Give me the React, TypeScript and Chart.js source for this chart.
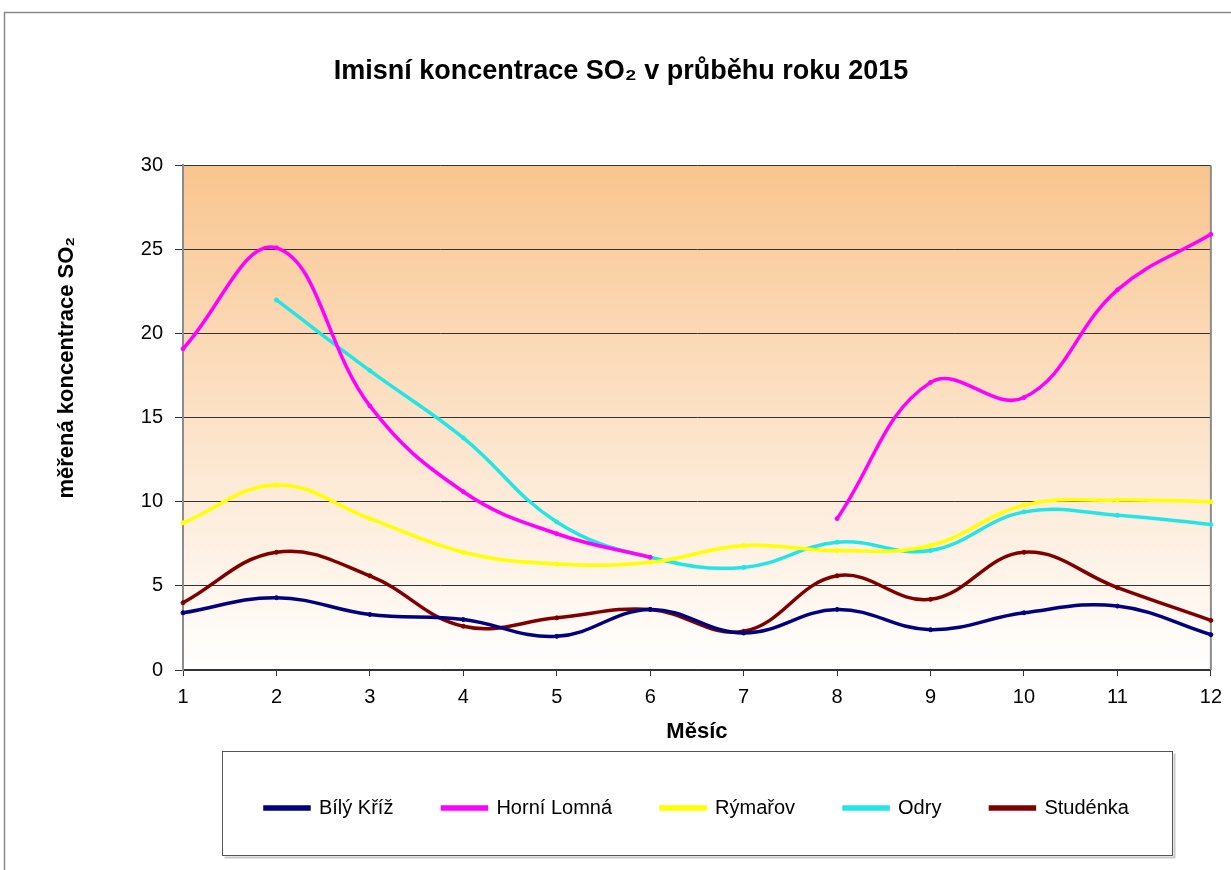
import React, { useEffect, useRef } from 'react';
import { Chart, registerables } from 'chart.js';

Chart.register(...registerables);

const FONT = '"Liberation Sans", Arial, Helvetica, sans-serif';

// ---- data ----
const months = ['1', '2', '3', '4', '5', '6', '7', '8', '9', '10', '11', '12'];
const bilyKriz = [3.4, 4.3, 3.3, 3.0, 2.0, 3.6, 2.2, 3.6, 2.4, 3.4, 3.8, 2.1];
const horniLomna = [19.1, 25.1, 15.7, 10.6, 8.1, 6.7, null, 9.0, 17.1, 16.2, 22.6, 25.9];
const rymarov = [8.75, 11.0, 9.0, 7.0, 6.3, 6.4, 7.4, 7.1, 7.4, 9.8, 10.1, 10.0];
const odry = [null, 22.0, 17.8, 13.8, 8.8, 6.7, 6.1, 7.6, 7.1, 9.4, 9.2, 8.65];
const studenka = [4.0, 7.0, 5.6, 2.6, 3.1, 3.6, 2.3, 5.6, 4.2, 7.0, 4.9, 2.95];

const seriesNames = ['Bílý Kříž', 'Horní Lomná', 'Rýmařov', 'Odry', 'Studénka'];
const seriesValues = [bilyKriz, horniLomna, rymarov, odry, studenka];
const seriesColors = ['#000080', '#FF00FF', '#FFFF00', '#22E6E6', '#800000'];

const yMin = 0;
const yMax = 30;
const yStep = 5;

const chartTitle = 'Imisní koncentrace SO₂ v průběhu roku 2015';
const yTitle = 'měřená koncentrace SO₂';
const xTitle = 'Měsíc';

const decorPlugin = {
  id: 'decor',
  beforeDraw(chart: any) {
    const { ctx, chartArea: a } = chart;
    ctx.save();
    ctx.fillStyle = '#FFFFFF';
    ctx.fillRect(0, 0, chart.width, chart.height);
    const g = ctx.createLinearGradient(0, a.top, 0, a.bottom);
    g.addColorStop(0, '#F9C58F');
    g.addColorStop(1, '#FFFFFF');
    ctx.fillStyle = g;
    ctx.fillRect(a.left, a.top, a.right - a.left, a.bottom - a.top);
    ctx.restore();
  },
  beforeDatasetsDraw(chart: any) {
    const { ctx, chartArea: a } = chart;
    ctx.save();
    ctx.strokeStyle = '#8C8C8C';
    ctx.lineWidth = 2;
    ctx.beginPath();
    ctx.moveTo(a.right, a.top);
    ctx.lineTo(a.right, a.bottom);
    ctx.stroke();
    ctx.restore();
  },
  afterDraw(chart: any) {
    const { ctx, chartArea: a, legend } = chart;
    ctx.save();
    // outer frame
    ctx.strokeStyle = '#8A8A8A';
    ctx.lineWidth = 1.5;
    ctx.strokeRect(4.5, 12.5, chart.width + 40, chart.height + 40);
    // legend frame
    const cx = (a.left + a.right) / 2;
    const bx = Math.round(cx - 475) + 0.5;
    const by = Math.round(legend.top + 2) + 0.5;
    ctx.strokeStyle = '#C8C8C8';
    ctx.lineWidth = 2;
    ctx.beginPath();
    ctx.moveTo(bx + 2, by + 106);
    ctx.lineTo(bx + 952, by + 106);
    ctx.lineTo(bx + 952, by + 2);
    ctx.stroke();
    ctx.strokeStyle = '#555555';
    ctx.lineWidth = 1;
    ctx.strokeRect(bx, by, 950, 104);
    // y axis title
    ctx.translate(67, (a.top + a.bottom) / 2 - 50);
    ctx.rotate(-Math.PI / 2);
    ctx.font = `bold 22px ${FONT}`;
    ctx.fillStyle = '#000000';
    ctx.textAlign = 'center';
    ctx.textBaseline = 'middle';
    ctx.fillText(yTitle, 0, 0);
    ctx.restore();
  },
};

export default function App() {
  const ref = useRef<HTMLCanvasElement>(null);

  useEffect(() => {
    if (!ref.current) return;
    const chart = new Chart(ref.current, {
      type: 'line',
      data: {
        labels: months,
        datasets: seriesNames.map((name, i) => ({
          label: name,
          data: seriesValues[i],
          borderColor: seriesColors[i],
          backgroundColor: seriesColors[i],
          borderWidth: 3.5,
          tension: 0.4,
          pointRadius: 2,
          pointBorderWidth: 1,
          pointBackgroundColor: seriesColors[i],
          pointBorderColor: seriesColors[i],
          spanGaps: false,
          fill: false,
        })),
      },
      options: {
        animation: false,
        responsive: false,
        layout: { padding: { top: 12, left: 30, right: 19, bottom: 42 } },
        plugins: {
          title: {
            display: true,
            text: chartTitle,
            color: '#000000',
            font: { family: FONT, size: 27, weight: 'bold' },
            padding: { top: 43, bottom: 78 },
          },
          legend: {
            position: 'bottom',
            fullSize: false,
            labels: {
              usePointStyle: false,
              boxWidth: 44,
              boxHeight: 2,
              color: '#000000',
              font: { family: FONT, size: 20 },
              padding: 49,
            },
          },
          tooltip: { enabled: false },
        },
        scales: {
          x: {
            type: 'category',
            offset: false,
            grid: { drawOnChartArea: false, drawTicks: true, tickLength: 6, color: '#333333' },
            border: { color: '#333333', width: 1.5 },
            ticks: {
              color: '#000000',
              font: { family: FONT, size: 20 },
              padding: 9,
              maxRotation: 0,
              autoSkip: false,
            },
            title: {
              display: true,
              text: xTitle,
              color: '#000000',
              font: { family: FONT, size: 22, weight: 'bold' },
              padding: { top: 0, bottom: 4 },
            },
            afterFit: (s: any) => {
              s.height = 79;
            },
          },
          y: {
            min: yMin,
            max: yMax,
            ticks: {
              stepSize: yStep,
              color: '#000000',
              font: { family: FONT, size: 20 },
              padding: 12,
            },
            grid: { color: '#333333', lineWidth: 1, tickLength: 8 },
            border: { color: '#8C8C8C', width: 2 },
            afterFit: (s: any) => {
              s.width = 153;
            },
          },
        },
      },
      plugins: [decorPlugin],
    } as any);
    return () => chart.destroy();
  }, []);

  return (
    <div style={{ position: 'absolute', left: 0, top: 0, width: 1231, height: 870 }}>
      <canvas ref={ref} width={1231} height={870} style={{ display: 'block' }} />
    </div>
  );
}
